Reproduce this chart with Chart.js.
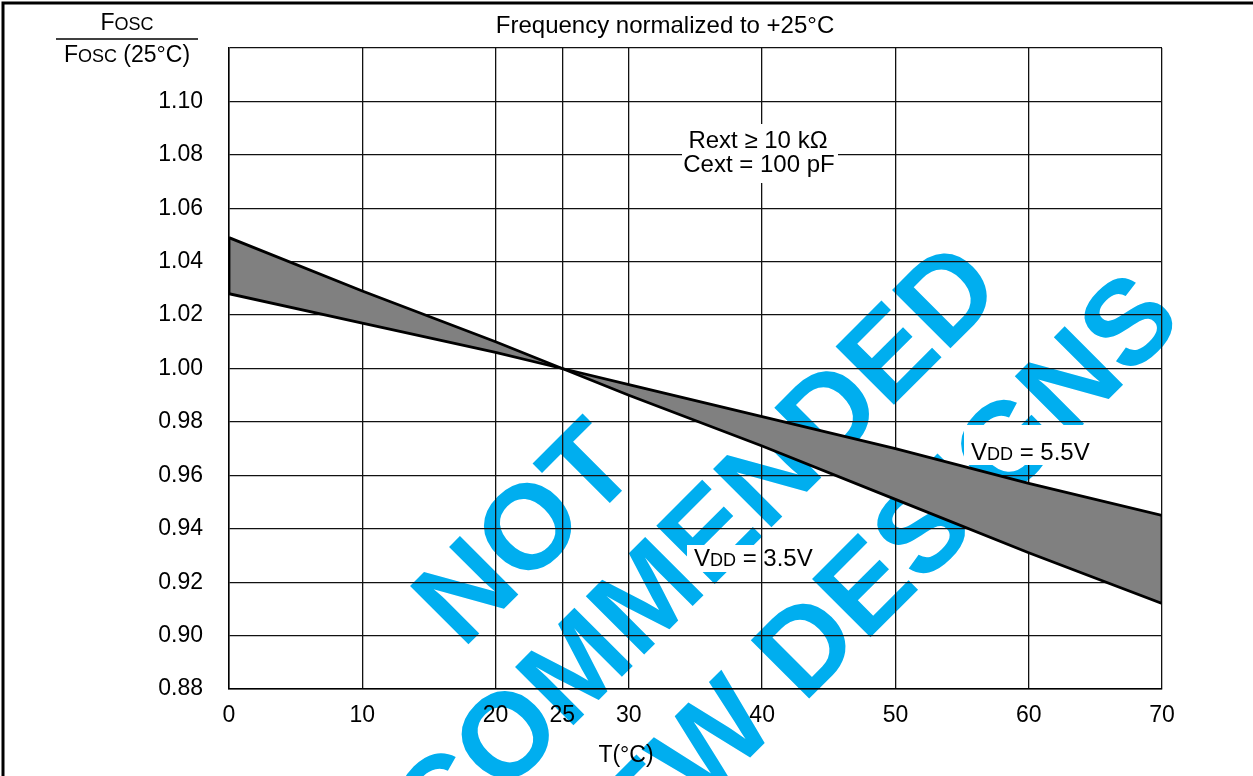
<!DOCTYPE html>
<html>
<head>
<meta charset="utf-8">
<script src="https://cdn.jsdelivr.net/npm/chart.js@4.4.1/dist/chart.umd.min.js"></script>
<style>
  html, body { margin: 0; padding: 0; background: #fff; }
  #wrap { width: 1253px; height: 776px; }
</style>
</head>
<body>
<div id="wrap"><canvas id="c" width="1253" height="776"></canvas></div>
<script>
// ---- data ----
const temps  = [0, 10, 20, 25, 30, 40, 50, 60, 70];
const vdd35  = [1.049, 1.029, 1.010, 1.000, 0.990, 0.971, 0.951, 0.931, 0.912];
const vdd55  = [1.028, 1.017, 1.006, 1.000, 0.994, 0.982, 0.970, 0.957, 0.945];
const xTicks = [0, 10, 20, 25, 30, 40, 50, 60, 70];
const yTicks = [0.88, 0.90, 0.92, 0.94, 0.96, 0.98, 1.00, 1.02, 1.04, 1.06, 1.08, 1.10, 1.12];
const titleText = 'Frequency normalized to +25°C';
const xTitle = 'T(°C)';
const noteLines = ['Rext ≥ 10 kΩ', 'Cext = 100 pF'];
const watermark = ['NOT', 'RECOMMENDED', 'FOR NEW DESIGNS'];

const FONT = '"Liberation Sans", Arial, Helvetica, sans-serif';
const FS = 23, FSS = 18, FT = 24;

function pts(xs, ys) { return xs.map((x, i) => ({ x: x, y: ys[i] })); }

function richWidth(ctx, parts) {
  let w = 0;
  parts.forEach(p => { ctx.font = p.s + 'px ' + FONT; w += ctx.measureText(p.t).width; });
  return w;
}
function drawRich(ctx, parts, x, y, align) {
  const w = richWidth(ctx, parts);
  let cx = align === 'center' ? x - w / 2 : (align === 'right' ? x - w : x);
  ctx.textAlign = 'left';
  ctx.textBaseline = 'alphabetic';
  ctx.fillStyle = '#000';
  parts.forEach(p => {
    ctx.font = p.s + 'px ' + FONT;
    ctx.fillText(p.t, cx, y);
    cx += ctx.measureText(p.t).width;
  });
  return w;
}

const decor = {
  id: 'decor',
  beforeDraw(chart) {
    const ctx = chart.ctx;
    ctx.save();
    ctx.fillStyle = '#fff';
    ctx.fillRect(0, 0, chart.width, chart.height);
    // outer frame (top + left)
    ctx.strokeStyle = '#000';
    ctx.lineWidth = 3;
    ctx.beginPath();
    ctx.moveTo(3, chart.height + 5);
    ctx.lineTo(3, 3);
    ctx.lineTo(chart.width + 5, 3);
    ctx.stroke();
    // watermark
    const wm = [[522, 530], [634, 604], [752, 695]];
    const size = 120;
    ctx.fillStyle = '#00AEEF';
    ctx.font = 'bold ' + size + 'px ' + FONT;
    ctx.textAlign = 'center';
    ctx.textBaseline = 'alphabetic';
    watermark.forEach((t, i) => {
      ctx.save();
      ctx.translate(wm[i][0], wm[i][1]);
      ctx.rotate(-Math.PI / 4);
      ctx.fillText(t, 0, 0.358 * size);
      ctx.restore();
    });
    // VDD = 3.5V label (box under grid)
    const p35 = [{ t: 'V', s: FT }, { t: 'DD', s: FSS }, { t: ' = 3.5V', s: FT }];
    ctx.fillStyle = '#fff';
    ctx.fillRect(687, 545, 132, 27);
    drawRich(ctx, p35, 694, 566, 'left');
    ctx.restore();
  },
  beforeDatasetsDraw(chart) {
    const ctx = chart.ctx;
    ctx.save();
    // Rext / Cext note
    ctx.fillStyle = '#fff';
    ctx.fillRect(682, 124, 156, 59);
    ctx.fillStyle = '#000';
    ctx.font = FT + 'px ' + FONT;
    ctx.textAlign = 'center';
    ctx.textBaseline = 'alphabetic';
    ctx.fillText(noteLines[0], 758, 148);
    ctx.fillText(noteLines[1], 759, 172);
    // VDD = 5.5V label
    ctx.fillStyle = '#fff';
    ctx.fillRect(964, 425, 131, 40);
    drawRich(ctx, [{ t: 'V', s: FT }, { t: 'DD', s: FSS }, { t: ' = 5.5V', s: FT }], 971, 460, 'left');
    ctx.restore();
  },
  afterDraw(chart) {
    const ctx = chart.ctx;
    ctx.save();
    ctx.fillStyle = '#000';
    ctx.font = FT + 'px ' + FONT;
    ctx.textAlign = 'center';
    ctx.textBaseline = 'alphabetic';
    ctx.fillText(titleText, 665, 33);
    ctx.font = FS + 'px ' + FONT;
    ctx.fillText(xTitle, 626, 762);
    // y axis label as a fraction
    drawRich(ctx, [{ t: 'F', s: FS }, { t: 'OSC', s: FSS }], 127, 30, 'center');
    ctx.strokeStyle = '#000';
    ctx.lineWidth = 1.5;
    ctx.beginPath();
    ctx.moveTo(56, 39);
    ctx.lineTo(198, 39);
    ctx.stroke();
    drawRich(ctx, [{ t: 'F', s: FS }, { t: 'OSC', s: FSS }, { t: ' (25°C)', s: FS }], 127, 62, 'center');
    ctx.restore();
  }
};

new Chart(document.getElementById('c'), {
  type: 'line',
  data: {
    datasets: [
      {
        label: 'VDD = 3.5V',
        data: pts(temps, vdd35),
        borderColor: '#000',
        borderWidth: 2.8,
        backgroundColor: '#808080',
        fill: '+1',
        pointRadius: 0,
        tension: 0
      },
      {
        label: 'VDD = 5.5V',
        data: pts(temps, vdd55),
        borderColor: '#000',
        borderWidth: 2.8,
        fill: false,
        pointRadius: 0,
        tension: 0
      },
      {
        label: 'left edge',
        data: [{ x: temps[0], y: vdd35[0] }, { x: temps[0], y: vdd55[0] }],
        borderColor: '#000',
        borderWidth: 2.8,
        fill: false,
        pointRadius: 0
      },
      {
        label: 'right edge',
        data: [{ x: temps[temps.length - 1], y: vdd35[vdd35.length - 1] }, { x: temps[temps.length - 1], y: vdd55[vdd55.length - 1] }],
        borderColor: '#000',
        borderWidth: 2.8,
        fill: false,
        pointRadius: 0
      }
    ]
  },
  options: {
    responsive: false,
    animation: false,
    devicePixelRatio: 1,
    layout: { padding: { left: 0, top: 48, right: 91, bottom: 47 } },
    plugins: {
      legend: { display: false }, tooltip: { enabled: false }, title: { display: false },
      filler: { drawTime: 'beforeDatasetsDraw' }
    },
    scales: {
      x: {
        type: 'linear',
        min: 0, max: 70,
        afterBuildTicks: s => { s.ticks = xTicks.map(v => ({ value: v })); },
        afterFit: s => { s.height = 40; },
        grid: { color: '#111', lineWidth: 1.3, drawTicks: false },
        border: { color: '#000', width: 1.5 },
        ticks: { color: '#000', font: { size: FS, family: FONT }, padding: 13, maxRotation: 0, autoSkip: false,
                 callback: v => String(v) }
      },
      y: {
        type: 'linear',
        min: 0.88, max: 1.12,
        afterBuildTicks: s => { s.ticks = yTicks.map(v => ({ value: v })); },
        afterFit: s => { s.width = 229; },
        grid: { color: '#111', lineWidth: 1.3, drawTicks: false },
        border: { color: '#000', width: 1.5 },
        ticks: { color: '#000', font: { size: FS, family: FONT }, padding: 26, autoSkip: false,
                 callback: v => (Math.abs(v - 1.12) < 1e-6 ? '' : v.toFixed(2)) }
      }
    }
  },
  plugins: [decor]
});
</script>
</body>
</html>
